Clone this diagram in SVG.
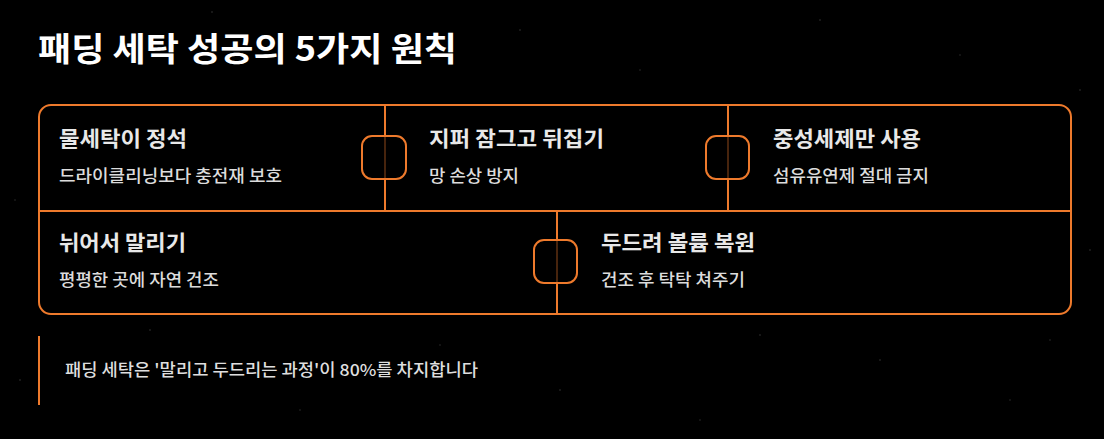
<svg xmlns="http://www.w3.org/2000/svg" width="1104" height="439" viewBox="0 0 1104 439">
<style>
.title{font-family:"Noto Sans CJK KR","Noto Sans",sans-serif;font-weight:700;font-size:33px;fill:#ffffff}
.nt{font-family:"Noto Sans CJK KR","Noto Sans",sans-serif;font-weight:700;font-size:21px;fill:#e8e8e8}
.ns{font-family:"Noto Sans CJK KR","Noto Sans",sans-serif;font-weight:500;font-size:16.5px;fill:#dcdcdc}
.foot{font-family:"Noto Sans CJK KR","Noto Sans",sans-serif;font-weight:500;font-size:16.5px;fill:#dedede}
.ln{stroke:#ee7a2c;stroke-width:2;fill:none}
.hub{stroke:#ee7a2c;stroke-width:2;fill:#000;fill-opacity:0.7}
.dot{fill:#9a9a9a;opacity:0.35}
</style>
<rect x="0" y="0" width="1104" height="439" fill="#000"/>
<g id="specks">
<circle class="dot" cx="212" cy="12" r="0.8"/><circle class="dot" cx="520" cy="30" r="0.8"/><circle class="dot" cx="640" cy="70" r="0.7"/>
<circle class="dot" cx="820" cy="20" r="0.8"/><circle class="dot" cx="960" cy="55" r="0.7"/><circle class="dot" cx="1080" cy="90" r="0.8"/>
<circle class="dot" cx="150" cy="330" r="0.8"/><circle class="dot" cx="300" cy="410" r="0.7"/><circle class="dot" cx="560" cy="390" r="0.8"/>
<circle class="dot" cx="700" cy="420" r="0.7"/><circle class="dot" cx="880" cy="360" r="0.8"/><circle class="dot" cx="1010" cy="400" r="0.7"/>
<circle class="dot" cx="1090" cy="250" r="0.8"/><circle class="dot" cx="15" cy="200" r="0.7"/><circle class="dot" cx="20" cy="380" r="0.8"/>
<circle class="dot" cx="440" cy="345" r="0.7"/><circle class="dot" cx="760" cy="335" r="0.8"/><circle class="dot" cx="1050" cy="340" r="0.7"/>
</g>
<text class="title" x="38" y="61" textLength="419" lengthAdjust="spacingAndGlyphs">패딩 세탁 성공의 5가지 원칙</text>
<g id="connectors">
<rect class="ln" x="39" y="105" width="1032" height="209" rx="12"/>
<line class="ln" x1="39" y1="211" x2="1071" y2="211"/>
<line class="ln" x1="385" y1="105" x2="385" y2="211"/>
<line class="ln" x1="728" y1="105" x2="728" y2="211"/>
<line class="ln" x1="557" y1="211" x2="557" y2="314"/>
<rect class="hub" x="362" y="136" width="44" height="43" rx="10"/>
<rect class="hub" x="706" y="136" width="43" height="43" rx="10"/>
<rect class="hub" x="534" y="240" width="43" height="43" rx="10"/>
</g>
<g id="n1"><text class="nt" x="59" y="146" textLength="128" lengthAdjust="spacingAndGlyphs">물세탁이 정석</text><text class="ns" x="59" y="182" textLength="223" lengthAdjust="spacingAndGlyphs">드라이클리닝보다 충전재 보호</text></g>
<g id="n2"><text class="nt" x="429" y="146" textLength="175" lengthAdjust="spacingAndGlyphs">지퍼 잠그고 뒤집기</text><text class="ns" x="429" y="182" textLength="90" lengthAdjust="spacingAndGlyphs">망 손상 방지</text></g>
<g id="n3"><text class="nt" x="773" y="146" textLength="148" lengthAdjust="spacingAndGlyphs">중성세제만 사용</text><text class="ns" x="773" y="182" textLength="156" lengthAdjust="spacingAndGlyphs">섬유유연제 절대 금지</text></g>
<g id="n4"><text class="nt" x="59" y="250" textLength="127" lengthAdjust="spacingAndGlyphs">뉘어서 말리기</text><text class="ns" x="59" y="286" textLength="160" lengthAdjust="spacingAndGlyphs">평평한 곳에 자연 건조</text></g>
<g id="n5"><text class="nt" x="601" y="250" textLength="154" lengthAdjust="spacingAndGlyphs">두드려 볼륨 복원</text><text class="ns" x="601" y="286" textLength="144" lengthAdjust="spacingAndGlyphs">건조 후 탁탁 쳐주기</text></g>
<g id="footer">
<line x1="39" y1="336" x2="39" y2="405" stroke="#ee7a2c" stroke-width="2"/>
<text class="foot" x="65" y="376" textLength="413" lengthAdjust="spacingAndGlyphs">패딩 세탁은 '말리고 두드리는 과정'이 80%를 차지합니다</text>
</g>
</svg>
